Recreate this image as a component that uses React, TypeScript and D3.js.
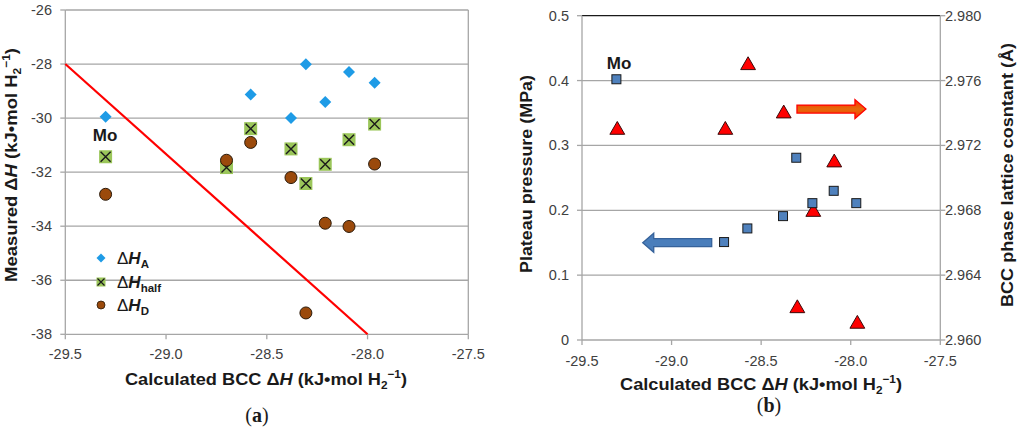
import React from "react";
import * as d3 from "d3";

// ---------- Data ----------
const calcBCC = [-29.3, -28.7, -28.58, -28.38, -28.306, -28.21, -28.092, -27.965];
const dHA: (number | null)[] = [-29.95, null, -29.13, -30.0, -28.01, -29.4, -28.29, -28.69];
const dHhalf = [-31.43, -31.83, -30.39, -31.14, -32.42, -31.71, -30.8, -30.22];
const dHD = [-32.82, -31.56, -30.9, -32.2, -37.21, -33.89, -34.01, -31.7];
const refLineX = [-29.5, -28.0];
const refLineY = [-28, -38];

const pressureX = [-29.308, -28.707, -28.577, -28.378, -28.304, -28.214, -28.095, -27.969];
const pressure = [0.402, 0.151, 0.172, 0.191, 0.281, 0.211, 0.23, 0.211];
const latticeX = [-29.303, -28.7, -28.573, -28.374, -28.298, -28.209, -28.092, -27.963];
const lattice = [2.97295, 2.97295, 2.97694, 2.97396, 2.96195, 2.96789, 2.97094, 2.96099];

const xTicks = [-29.5, -29.0, -28.5, -28.0, -27.5];
const yTicksA = [-26, -28, -30, -32, -34, -36, -38];
const yTicksB = [0, 0.1, 0.2, 0.3, 0.4, 0.5];
const yTicksB2 = [2.96, 2.964, 2.968, 2.972, 2.976, 2.98];

// arrows in data coords (x start, x end, y in pressure units)
const redArrow = [-28.3, -27.915, 0.356];
const blueArrow = [-28.776, -29.161, 0.15];

const FONT = "'Liberation Sans', Arial, sans-serif";
const GRID = "#a6a6a6";
const TICKC = "#404040";

function DeltaHTitle({
  x,
  y,
  prefix,
  rotate,
  len,
}: {
  x: number;
  y: number;
  prefix: string;
  rotate?: boolean;
  len: number;
}) {
  return (
    <text
      x={x}
      y={y}
      transform={rotate ? `rotate(-90 ${x} ${y})` : undefined}
      textAnchor="middle"
      fontFamily={FONT}
      fontWeight="bold"
      fontSize={17}
      fill="#1a1a1a"
      textLength={len}
      lengthAdjust="spacingAndGlyphs"
    >
      {prefix}Δ<tspan fontStyle="italic">H</tspan> (kJ•mol H
      <tspan fontSize={11} dy={4}>2</tspan>
      <tspan fontSize={11} dy={-11}>−1</tspan>
      <tspan dy={7}>)</tspan>
    </text>
  );
}

export default function App() {
  // ---- Chart (a) ----
  const xa = d3.scaleLinear().domain([-29.5, -27.5]).range([65.3, 468.3]);
  const ya = d3.scaleLinear().domain([-26, -38]).range([10, 334.3]);
  // ---- Chart (b) ----
  const xb = d3.scaleLinear().domain([-29.5, -27.5]).range([582, 940.3]);
  const yb = d3.scaleLinear().domain([0, 0.5]).range([340, 15.7]);
  const yb2 = d3.scaleLinear().domain([2.96, 2.98]).range([340, 15.7]);

  const tri = d3.symbol().type(d3.symbolTriangle).size(95)()!;
  const diamond = (r: number) => `M0,${-r}L${r},0L0,${r}L${-r},0Z`;

  const arrowPath = (x0: number, x1: number, y: number, shaft: number, head: number, headLen: number) => {
    const dir = x1 > x0 ? 1 : -1;
    const xh = x1 - dir * headLen;
    return `M${x0},${y - shaft / 2}L${xh},${y - shaft / 2}L${xh},${y - head / 2}L${x1},${y}L${xh},${y + head / 2}L${xh},${y + shaft / 2}L${x0},${y + shaft / 2}Z`;
  };

  const [ax0, ax1] = xa.range();
  const [ay0, ay1] = ya.range();
  const [bx0, bx1] = xb.range();

  return (
    <svg
      width={1024}
      height={429}
      style={{ position: "absolute", left: 0, top: 0, background: "#fff" }}
      fontFamily={FONT}
    >
      <defs>
        <linearGradient id="redGrad" x1="0" y1="0" x2="0" y2="1">
          <stop offset="0" stopColor="#ff2a00" />
          <stop offset="0.5" stopColor="#e46c0a" />
          <stop offset="1" stopColor="#ff2a00" />
        </linearGradient>
      </defs>

      {/* ================= Chart (a) ================= */}
      {yTicksA.map((t) => (
        <g key={"ga" + t}>
          <line x1={ax0} x2={ax1} y1={ya(t)} y2={ya(t)} stroke={GRID} strokeWidth={1.3} />
          <line x1={ax0 - 5} x2={ax0} y1={ya(t)} y2={ya(t)} stroke={GRID} strokeWidth={1.3} />
          <text x={52} y={ya(t)} dy="0.35em" textAnchor="end" fontSize={14.5} fill={TICKC}>
            {t}
          </text>
        </g>
      ))}
      <line x1={ax0} x2={ax0} y1={ay0} y2={ay1} stroke={GRID} strokeWidth={1.3} />
      <line x1={ax1} x2={ax1} y1={ay0} y2={ay1} stroke={GRID} strokeWidth={1.3} />
      {xTicks.map((t) => (
        <g key={"xa" + t}>
          <line x1={xa(t)} x2={xa(t)} y1={ay1} y2={ay1 + 5} stroke={GRID} strokeWidth={1.3} />
          <text x={xa(t)} y={359} textAnchor="middle" fontSize={14.5} fill={TICKC}>
            {t.toFixed(1)}
          </text>
        </g>
      ))}
      <line
        x1={xa(refLineX[0])}
        y1={ya(refLineY[0])}
        x2={xa(refLineX[1])}
        y2={ya(refLineY[1])}
        stroke="#ff0000"
        strokeWidth={2.2}
      />
      {calcBCC.map((x, i) =>
        dHA[i] === null ? null : (
          <path key={"a" + i} d={diamond(6)} transform={`translate(${xa(x)},${ya(dHA[i] as number)})`} fill="#1e9be6" />
        )
      )}
      {calcBCC.map((x, i) => (
        <g key={"h" + i} transform={`translate(${xa(x)},${ya(dHhalf[i])})`}>
          <rect x={-6.5} y={-6.5} width={13} height={13} fill="#9bc65a" />
          <path d="M-5,-5L5,5M-5,5L5,-5" stroke="#1a1a1a" strokeWidth={1.4} />
        </g>
      ))}
      {calcBCC.map((x, i) => (
        <circle key={"d" + i} cx={xa(x)} cy={ya(dHD[i])} r={6} fill="#9b4a0c" stroke="#2a1a0a" strokeWidth={1} />
      ))}
      <text x={105} y={135} dy="0.35em" textAnchor="middle" fontSize={17} fontWeight="bold" fill="#1a1a1a">
        Mo
      </text>

      {/* legend */}
      <path d={diamond(4.5)} transform="translate(101,258)" fill="#1e9be6" />
      <g transform="translate(101,282)">
        <rect x={-4.5} y={-4.5} width={9} height={9} fill="#9bc65a" />
        <path d="M-3.5,-3.5L3.5,3.5M-3.5,3.5L3.5,-3.5" stroke="#1a1a1a" strokeWidth={1.2} />
      </g>
      <circle cx={101} cy={305} r={4} fill="#9b4a0c" stroke="#2a1a0a" strokeWidth={0.8} />
      {[
        { y: 258, sub: "A" },
        { y: 282, sub: "half" },
        { y: 305, sub: "D" },
      ].map((d) => (
        <text key={d.sub} x={117} y={d.y} dy="0.35em" fontSize={17} fill="#1a1a1a">
          Δ<tspan fontStyle="italic" fontWeight="bold">H</tspan>
          <tspan fontSize={11.5} fontWeight="bold" dy={4}>
            {d.sub}
          </tspan>
        </text>
      ))}

      <DeltaHTitle x={17} y={165} prefix="Measured " rotate len={234} />
      <DeltaHTitle x={266} y={385} prefix="Calculated BCC " len={282} />
      <text x={257} y={422} textAnchor="middle" fontFamily="'Liberation Serif', 'DejaVu Serif', serif" fontSize={20} fill="#1a1a1a">
        (<tspan fontWeight="bold">a</tspan>)
      </text>

      {/* ================= Chart (b) ================= */}
      {yTicksB.map((t, i) => (
        <g key={"gb" + t}>
          <line
            x1={bx0}
            x2={bx1}
            y1={yb(t)}
            y2={yb(t)}
            stroke={t === 0.5 ? "#1a1a1a" : GRID}
            strokeWidth={1.3}
          />
          <line x1={bx0 - 5} x2={bx0} y1={yb(t)} y2={yb(t)} stroke={GRID} strokeWidth={1.3} />
          <line x1={bx1} x2={bx1 + 5} y1={yb(t)} y2={yb(t)} stroke={GRID} strokeWidth={1.3} />
          <text x={569} y={yb(t)} dy="0.35em" textAnchor="end" fontSize={14.5} fill={TICKC}>
            {t === 0 ? "0" : t.toFixed(1)}
          </text>
          <text x={945} y={yb2(yTicksB2[i])} dy="0.35em" textAnchor="start" fontSize={14.5} fill={TICKC}>
            {yTicksB2[i].toFixed(3)}
          </text>
        </g>
      ))}
      <line x1={bx0} x2={bx0} y1={yb(0.5)} y2={yb(0)} stroke={GRID} strokeWidth={1.3} />
      <line x1={bx1} x2={bx1} y1={yb(0.5)} y2={yb(0)} stroke={GRID} strokeWidth={1.3} />
      {xTicks.map((t) => (
        <g key={"xb" + t}>
          <line x1={xb(t)} x2={xb(t)} y1={yb(0)} y2={yb(0) + 5} stroke={GRID} strokeWidth={1.3} />
          <text x={xb(t)} y={366} textAnchor="middle" fontSize={14.5} fill={TICKC}>
            {t.toFixed(1)}
          </text>
        </g>
      ))}

      {/* arrows */}
      <path
        d={arrowPath(xb(redArrow[0]), xb(redArrow[1]), yb(redArrow[2]), 8, 19, 11)}
        fill="url(#redGrad)"
        stroke="#ff0000"
        strokeWidth={1.3}
      />
      <path
        d={arrowPath(xb(blueArrow[0]), xb(blueArrow[1]), yb(blueArrow[2]), 8, 19, 11)}
        fill="#4a7ebb"
        stroke="#36629a"
        strokeWidth={1.3}
      />

      {latticeX.map((x, i) => (
        <path
          key={"t" + i}
          d={tri}
          transform={`translate(${xb(x)},${yb2(lattice[i])})`}
          fill="#ff0000"
          stroke="#3a0a0a"
          strokeWidth={1}
        />
      ))}
      {pressureX.map((x, i) => (
        <rect
          key={"s" + i}
          x={xb(x) - 4.5}
          y={yb(pressure[i]) - 4.5}
          width={9}
          height={9}
          fill="#4f81bd"
          stroke="#1a1a1a"
          strokeWidth={1}
        />
      ))}
      <text x={619} y={63} dy="0.35em" textAnchor="middle" fontSize={17} fontWeight="bold" fill="#1a1a1a">
        Mo
      </text>

      <text
        x={532}
        y={174}
        transform="rotate(-90 532 174)"
        textAnchor="middle"
        fontSize={17}
        fontWeight="bold"
        fill="#1a1a1a"
        textLength={198}
        lengthAdjust="spacingAndGlyphs"
      >
        Plateau pressure (MPa)
      </text>
      <text
        x={1013}
        y={175}
        transform="rotate(-90 1013 175)"
        textAnchor="middle"
        fontSize={17}
        fontWeight="bold"
        fill="#1a1a1a"
        textLength={264}
        lengthAdjust="spacingAndGlyphs"
      >
        BCC phase lattice cosntant (Å)
      </text>
      <DeltaHTitle x={761} y={390} prefix="Calculated BCC " len={282} />
      <text x={769} y={412} textAnchor="middle" fontFamily="'Liberation Serif', 'DejaVu Serif', serif" fontSize={20} fill="#1a1a1a">
        (<tspan fontWeight="bold">b</tspan>)
      </text>
    </svg>
  );
}
